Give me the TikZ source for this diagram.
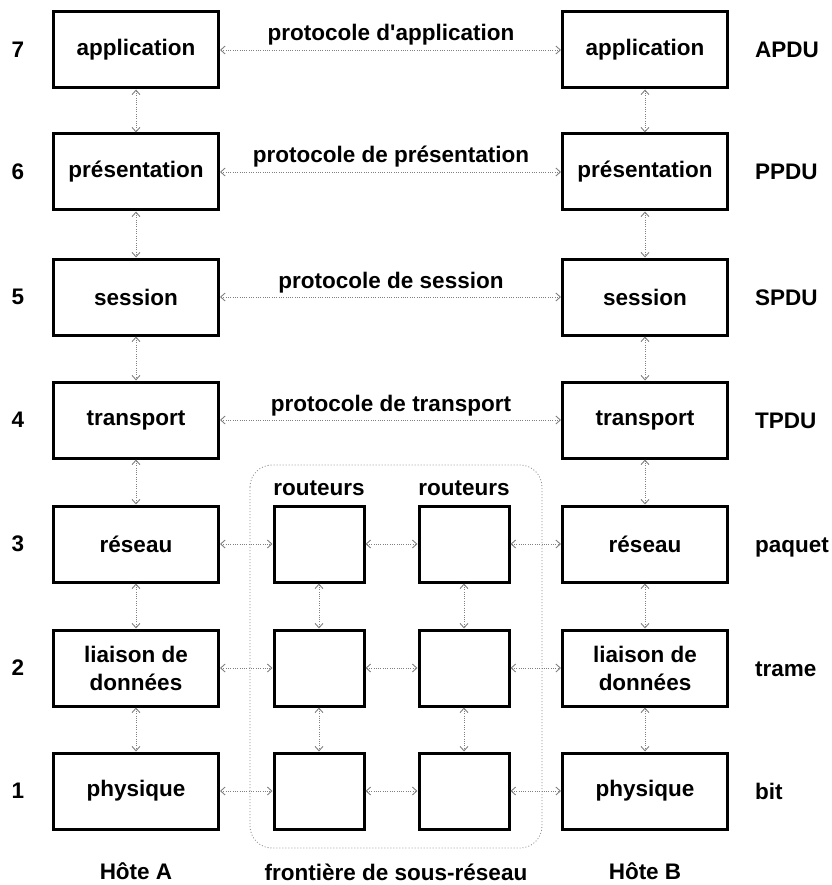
\documentclass[tikz,border=0pt]{standalone}
\usepackage{fontspec}
\setmainfont{Liberation Sans}[Ligatures=TeXOff]
\usetikzlibrary{arrows.meta}
\begin{document}
\begin{tikzpicture}[x=1pt,y=-1pt,
  txt/.style={font=\fontsize{22.5}{28}\selectfont\bfseries},
  layer/.style={txt,draw=black,line width=3pt,minimum width=165pt,minimum height=76pt,inner sep=0pt,align=center},
  router/.style={draw=black,line width=3pt,minimum width=90pt,minimum height=76pt,inner sep=0pt},
  lbl/.style={txt,inner sep=0pt},
  link/.style={draw=black!50,line width=0.9pt,dash pattern=on 1pt off 1.3pt,
    {Straight Barb[length=4.5pt,width=8pt]}-{Straight Barb[length=4.5pt,width=8pt]}},
  border/.style={draw=black!45,line width=0.8pt,dash pattern=on 1pt off 2pt,rounded corners=22pt}
]
\useasboundingbox (0,0) rectangle (831,885);

% subnet boundary
\draw[border] (250,465) rectangle (542,848);

% host A and host B stacks
\foreach \n/\y/\t in {7/50/application,6/172/présentation,5/297/session,4/420/transport,3/544/réseau,2/668/{liaison de\\données},1/791/physique}{
  \node[layer] (A\n) at (136,\y) {\t};
  \node[layer] (B\n) at (645,\y) {\t};
  \node[lbl] (N\n) at (18,\y) {\n};
}

% PDU names
\foreach \n/\y/\t in {7/50/APDU,6/172/PPDU,5/297/SPDU,4/420/TPDU,3/544/paquet,2/668/trame,1/791/bit}{
  \node[lbl,anchor=base west] (P\n) at (755,\y+8) {\t};
}

% routers
\foreach \n/\y in {3/544,2/668,1/791}{
  \node[router] (R\n) at (319,\y) {};
  \node[router] (S\n) at (464,\y) {};
}
\node[lbl,anchor=base] (rt1) at (319,495) {routeurs};
\node[lbl,anchor=base] (rt2) at (464,495) {routeurs};

% peer protocols
\foreach \n in {7,6,5,4}{
  \draw[link] (A\n) -- (B\n);
}
\node[lbl,anchor=base] (pr7) at (391,41) {protocole d'application};
\node[lbl,anchor=base] (pr6) at (391,163) {protocole de présentation};
\node[lbl,anchor=base] (pr5) at (391,288) {protocole de session};
\node[lbl,anchor=base] (pr4) at (391,411) {protocole de transport};

% links through the subnet
\foreach \n in {3,2,1}{
  \draw[link] (A\n) -- (R\n);
  \draw[link] (R\n) -- (S\n);
  \draw[link] (S\n) -- (B\n);
}

% vertical links in each stack
\foreach \a/\b in {7/6,6/5,5/4,4/3,3/2,2/1}{
  \draw[link] (A\a) -- (A\b);
  \draw[link] (B\a) -- (B\b);
}
\foreach \a/\b in {3/2,2/1}{
  \draw[link] (R\a) -- (R\b);
  \draw[link] (S\a) -- (S\b);
}

% bottom captions
\node[lbl,anchor=base] (ha) at (136,879) {Hôte A};
\node[lbl,anchor=base] (fr) at (396,880) {frontière de sous-réseau};
\node[lbl,anchor=base] (hb) at (645,879) {Hôte B};
\end{tikzpicture}
\end{document}
